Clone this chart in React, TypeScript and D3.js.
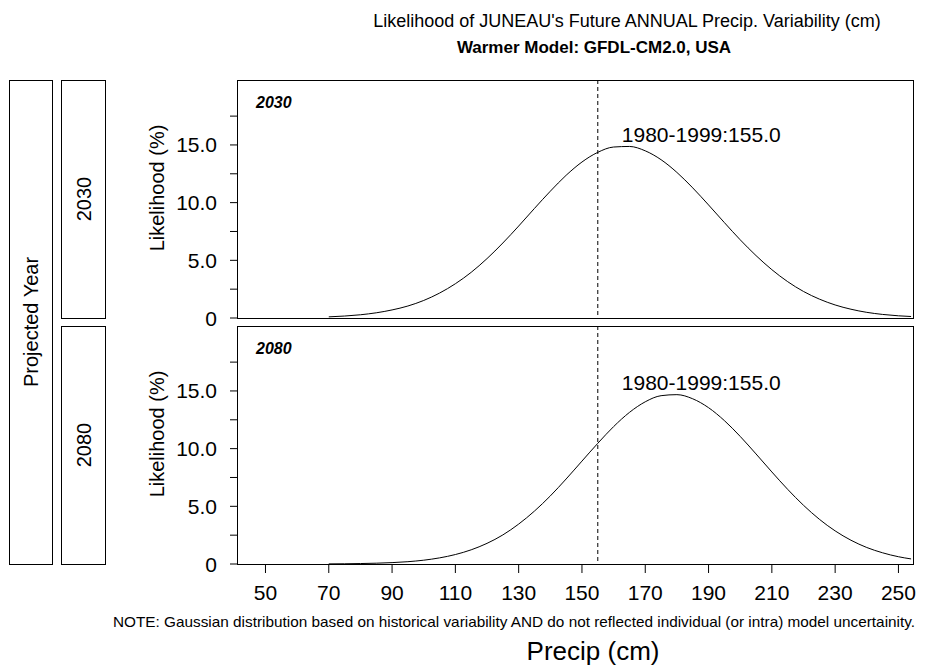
import * as d3 from "d3";

// precipitation grid (cm) the curves were read at
const precip = [
  70, 75, 80, 85, 90, 95, 100, 105, 110, 115, 120, 125, 130, 135, 140, 145, 150, 155, 160,
  165, 170, 175, 180, 185, 190, 195, 200, 205, 210, 215, 220, 225, 230, 235, 240, 245, 250, 254,
];
const likelihood2030 = [
  0.1, 0.17, 0.28, 0.45, 0.7, 1.04, 1.52, 2.16, 2.97, 3.96, 5.15, 6.5, 7.97, 9.5, 10.99, 12.37,
  13.52, 14.36, 14.82, 14.87, 14.49, 13.72, 12.62, 11.28, 9.8, 8.27, 6.78, 5.41, 4.19, 3.15, 2.3,
  1.64, 1.13, 0.76, 0.49, 0.31, 0.19, 0.13,
];
const likelihood2080 = [
  0.01, 0.02, 0.04, 0.07, 0.12, 0.2, 0.33, 0.53, 0.82, 1.23, 1.79, 2.52, 3.46, 4.59, 5.9, 7.37,
  8.92, 10.46, 11.91, 13.14, 14.06, 14.59, 14.68, 14.32, 13.55, 12.43, 11.06, 9.54, 7.98, 6.47,
  5.09, 3.88, 2.87, 2.06, 1.43, 0.97, 0.63, 0.44,
];
const years = ["2030", "2080"];
const seriesByYear = [likelihood2030, likelihood2080];
const xTicks = [50, 70, 90, 110, 130, 150, 170, 190, 210, 230, 250];
const yMajor = [0, 5, 10, 15];
const yMajorLabels = ["0", "5.0", "10.0", "15.0"];
const yMinor = [2.5, 7.5, 12.5, 17.5];
const baselineValue = 155;
const baselineLabel = "1980-1999:155.0";

const W = 931;
const H = 666;
const font = "'Liberation Sans', Arial, Helvetica, sans-serif";

const panelLeft = 237;
const panelRight = 913;
const panelTops = [80, 326];
const panelH = 238;

export default function App() {
  const x = d3.scaleLinear().domain([41, 254.6]).range([panelLeft, panelRight]);
  const y = d3.scaleLinear().domain([0, 20.63]).range([panelH, 0]);

  const line = d3
    .line<number>()
    .x((_, i) => x(precip[i]))
    .y((d) => y(d))
    .curve(d3.curveMonotoneX);

  const bottom = panelTops[1] + panelH;

  return (
    <svg
      width={W}
      height={H}
      style={{ position: "absolute", left: 0, top: 0, background: "#fff" }}
      fontFamily={font}
    >
      <defs>
        <clipPath id="panel-clip">
          <rect x={panelLeft} y={0} width={panelRight - panelLeft} height={panelH} />
        </clipPath>
      </defs>

      <text x={627} y={27} fontSize={18} textAnchor="middle">
        Likelihood of JUNEAU's Future ANNUAL Precip. Variability (cm)
      </text>
      <text x={594} y={53} fontSize={17} fontWeight="bold" textAnchor="middle">
        Warmer Model: GFDL-CM2.0, USA
      </text>

      {/* outer strip */}
      <rect x={9.5} y={panelTops[0] + 0.5} width={43} height={bottom - panelTops[0]} fill="none" stroke="#000" />
      <text
        transform={`translate(31,${(panelTops[0] + bottom) / 2}) rotate(-90)`}
        fontSize={20}
        textAnchor="middle"
        dominantBaseline="central"
      >
        Projected Year
      </text>

      {years.map((yr, p) => {
        const top = panelTops[p];
        const vals = seriesByYear[p];
        const peak = d3.max(vals) as number;
        return (
          <g key={yr}>
            <rect x={61.5} y={top + 0.5} width={44} height={panelH} fill="none" stroke="#000" />
            <text
              transform={`translate(84,${top + panelH / 2}) rotate(-90)`}
              fontSize={20}
              textAnchor="middle"
              dominantBaseline="central"
            >
              {yr}
            </text>
            <text
              transform={`translate(157,${top + panelH / 2 - 11}) rotate(-90)`}
              fontSize={20}
              textAnchor="middle"
              dominantBaseline="central"
            >
              Likelihood (%)
            </text>

            <g transform={`translate(0,${top})`}>
              {yMinor.map((v) => (
                <line key={"mi" + v} x1={panelLeft - 7} x2={panelLeft} y1={y(v)} y2={y(v)} stroke="#000" />
              ))}
              {yMajor.map((v, i) => (
                <g key={"ma" + v}>
                  <line x1={panelLeft - 7} x2={panelLeft} y1={y(v)} y2={y(v)} stroke="#000" />
                  <text x={217} y={y(v)} fontSize={21} textAnchor="end" dominantBaseline="central">
                    {yMajorLabels[i]}
                  </text>
                </g>
              ))}

              <line
                x1={x(baselineValue)}
                x2={x(baselineValue)}
                y1={0}
                y2={panelH}
                stroke="#000"
                strokeDasharray="4,3"
              />
              <path d={line(vals) ?? ""} fill="none" stroke="#000" strokeWidth={1} clipPath="url(#panel-clip)" />
              <text x={x(162.6)} y={y(peak + 0.4)} fontSize={21}>
                {baselineLabel}
              </text>
              <text x={256} y={28} fontSize={16} fontWeight="bold" fontStyle="italic">
                {yr}
              </text>
              <rect x={panelLeft + 0.5} y={0.5} width={panelRight - panelLeft} height={panelH} fill="none" stroke="#000" />
            </g>
          </g>
        );
      })}

      {xTicks.map((t) => (
        <g key={t}>
          <line x1={x(t)} x2={x(t)} y1={bottom + 0.5} y2={bottom + 9} stroke="#000" />
          <text x={x(t)} y={600} fontSize={21} textAnchor="middle">
            {t}
          </text>
        </g>
      ))}

      <text x={915} y={627} fontSize={15} textAnchor="end" textLength={802} lengthAdjust="spacingAndGlyphs">
        NOTE: Gaussian distribution based on historical variability AND do not reflected individual (or intra) model uncertainity.
      </text>
      <text x={593} y={660} fontSize={26} textAnchor="middle">
        Precip (cm)
      </text>
    </svg>
  );
}
